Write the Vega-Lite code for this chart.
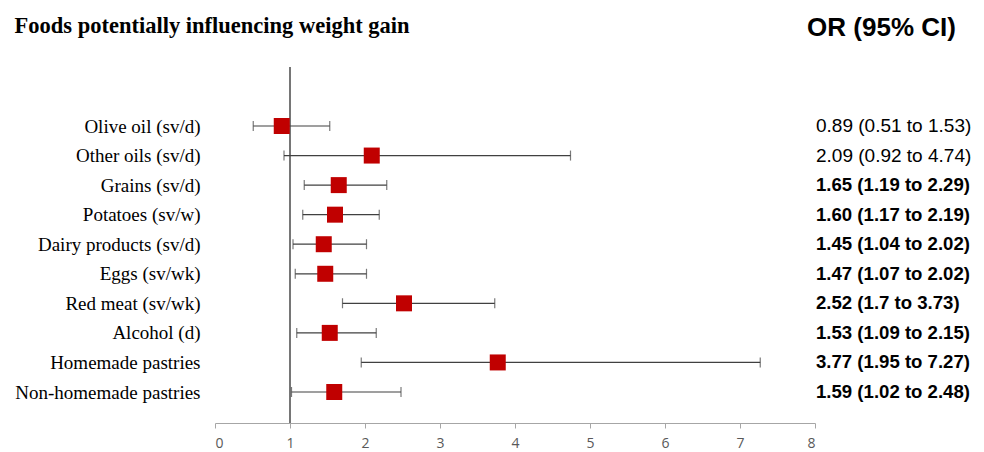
{
  "$schema": "https://vega.github.io/schema/vega-lite/v6.json",
  "autosize": {"type": "none"},
  "width": 600,
  "height": 356,
  "padding": {"left": 215, "top": 67, "right": 169, "bottom": 29},
  "background": "white",
  "config": {
    "view": {"stroke": null},
    "axisX": {
      "grid": false, "domainColor": "#a6a6a6", "tickColor": "#a6a6a6", "tickSize": 5,
      "labelFont": "Open Sans", "labelFontSize": 14, "labelColor": "#595959", "labelPadding": 8,
      "tickCount": 8,
      "titleX": 666, "titleY": -396, "titleAngle": 0, "titleAlign": "center", "titleBaseline": "middle",
      "titleFont": "Liberation Sans", "titleFontSize": 26, "titleFontWeight": "bold", "titleColor": "#000000"
    },
    "axisY": {
      "grid": false, "domain": false, "ticks": false,
      "labelFont": "Liberation Serif", "labelFontSize": 19, "labelColor": "#000000", "labelPadding": 15, "labelLimit": 300,
      "titleX": -201, "titleY": -42, "titleAngle": 0, "titleAlign": "left", "titleBaseline": "middle",
      "titleFont": "Liberation Serif", "titleFontSize": 22.5, "titleFontWeight": "bold", "titleColor": "#000000"
    }
  },
  "data": {
    "values": [
      {"food": "Olive oil (sv/d)", "or": 0.89, "lo": 0.51, "hi": 1.53, "label": "0.89 (0.51 to 1.53)", "sig": false},
      {"food": "Other oils (sv/d)", "or": 2.09, "lo": 0.92, "hi": 4.74, "label": "2.09 (0.92 to 4.74)", "sig": false},
      {"food": "Grains (sv/d)", "or": 1.65, "lo": 1.19, "hi": 2.29, "label": "1.65 (1.19 to 2.29)", "sig": true},
      {"food": "Potatoes (sv/w)", "or": 1.60, "lo": 1.17, "hi": 2.19, "label": "1.60 (1.17 to 2.19)", "sig": true},
      {"food": "Dairy products (sv/d)", "or": 1.45, "lo": 1.04, "hi": 2.02, "label": "1.45 (1.04 to 2.02)", "sig": true},
      {"food": "Eggs (sv/wk)", "or": 1.47, "lo": 1.07, "hi": 2.02, "label": "1.47 (1.07 to 2.02)", "sig": true},
      {"food": "Red meat (sv/wk)", "or": 2.52, "lo": 1.7, "hi": 3.73, "label": "2.52 (1.7 to 3.73)", "sig": true},
      {"food": "Alcohol (d)", "or": 1.53, "lo": 1.09, "hi": 2.15, "label": "1.53 (1.09 to 2.15)", "sig": true},
      {"food": "Homemade pastries", "or": 3.77, "lo": 1.95, "hi": 7.27, "label": "3.77 (1.95 to 7.27)", "sig": true},
      {"food": "Non-homemade pastries", "or": 1.59, "lo": 1.02, "hi": 2.48, "label": "1.59 (1.02 to 2.48)", "sig": true}
    ]
  },
  "layer": [
    {
      "data": {"values": [{"ref": 1}]},
      "mark": {"type": "rule", "color": "#767676", "strokeWidth": 2},
      "encoding": {
        "x": {"field": "ref", "type": "quantitative", "scale": {"domain": [0, 8]}, "title": "OR (95% CI)"}
      }
    },
    {
      "mark": {"type": "rule", "color": "#404040", "strokeWidth": 1.2},
      "encoding": {
        "y": {"field": "food", "type": "nominal", "sort": null, "scale": {"type": "point", "range": [59, 325], "padding": 0}, "title": "Foods potentially influencing weight gain"},
        "x": {"field": "lo", "type": "quantitative", "scale": {"domain": [0, 8]}, "title": "OR (95% CI)"},
        "x2": {"field": "hi"}
      }
    },
    {
      "mark": {"type": "tick", "color": "#404040", "size": 10, "thickness": 1.2},
      "encoding": {
        "y": {"field": "food", "type": "nominal", "sort": null, "scale": {"type": "point", "range": [59, 325], "padding": 0}, "title": "Foods potentially influencing weight gain"},
        "x": {"field": "lo", "type": "quantitative", "scale": {"domain": [0, 8]}, "title": "OR (95% CI)"}
      }
    },
    {
      "mark": {"type": "tick", "color": "#404040", "size": 10, "thickness": 1.2},
      "encoding": {
        "y": {"field": "food", "type": "nominal", "sort": null, "scale": {"type": "point", "range": [59, 325], "padding": 0}, "title": "Foods potentially influencing weight gain"},
        "x": {"field": "hi", "type": "quantitative", "scale": {"domain": [0, 8]}, "title": "OR (95% CI)"}
      }
    },
    {
      "mark": {"type": "point", "shape": "square", "filled": true, "size": 256, "color": "#c00000", "opacity": 1},
      "encoding": {
        "y": {"field": "food", "type": "nominal", "sort": null, "scale": {"type": "point", "range": [59, 325], "padding": 0}, "title": "Foods potentially influencing weight gain"},
        "x": {"field": "or", "type": "quantitative", "scale": {"domain": [0, 8]}, "title": "OR (95% CI)"}
      }
    },
    {
      "transform": [{"filter": {"field": "sig", "equal": false}}],
      "mark": {"type": "text", "align": "left", "baseline": "middle", "dx": 1, "font": "Liberation Sans", "fontSize": 19, "color": "#000000"},
      "encoding": {
        "y": {"field": "food", "type": "nominal", "sort": null, "scale": {"type": "point", "range": [59, 325], "padding": 0}, "title": "Foods potentially influencing weight gain"},
        "x": {"datum": 8, "type": "quantitative", "scale": {"domain": [0, 8]}, "title": "OR (95% CI)"},
        "text": {"field": "label", "type": "nominal"}
      }
    },
    {
      "transform": [{"filter": {"field": "sig", "equal": true}}],
      "mark": {"type": "text", "align": "left", "baseline": "middle", "dx": 1, "font": "Liberation Sans", "fontSize": 18.6, "fontWeight": "bold", "color": "#000000"},
      "encoding": {
        "y": {"field": "food", "type": "nominal", "sort": null, "scale": {"type": "point", "range": [59, 325], "padding": 0}, "title": "Foods potentially influencing weight gain"},
        "x": {"datum": 8, "type": "quantitative", "scale": {"domain": [0, 8]}, "title": "OR (95% CI)"},
        "text": {"field": "label", "type": "nominal"}
      }
    }
  ]
}
